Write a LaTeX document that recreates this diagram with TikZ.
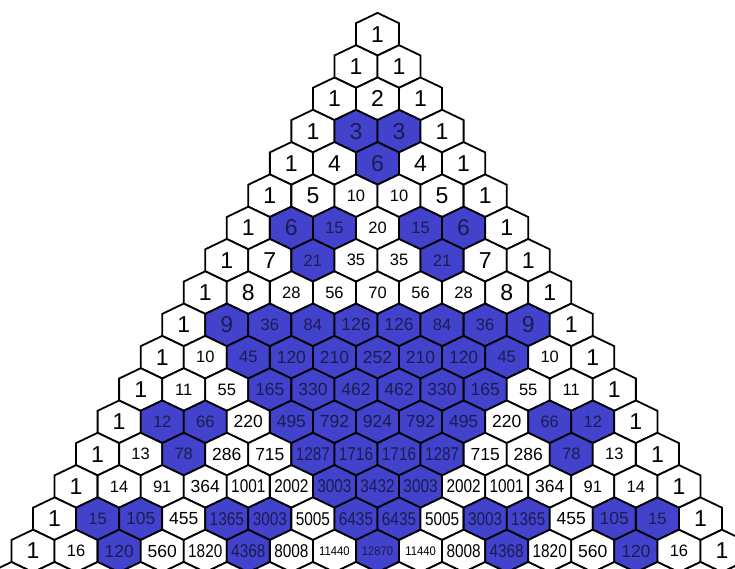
\documentclass[tikz,border=0pt]{standalone}
\usepackage{fontspec}
\setmainfont{Liberation Sans}
\definecolor{cellblue}{RGB}{66,66,204}
\definecolor{bluetext}{RGB}{28,28,80}
\newcount\binc
\tikzset{
  hexline/.style={draw=black,line width=1.8pt,line join=miter},
  numlabel/.style={inner sep=0pt,anchor=center}
}
\begin{document}
\begin{tikzpicture}[x=1pt,y=-1pt]
\useasboundingbox (0,0) rectangle (735,569);
\clip (0,0) rectangle (735,569);
\def\hw{21.53}\def\ha{21.3}\def\hb{11}
\foreach \n in {0,...,17}{
  \global\binc=1
  \foreach \k in {0,...,\n}{
    \ifnum\k>0 \global\binc=\numexpr\binc*(\n-\k+1)/\k\relax\fi
    \pgfmathsetmacro\cx{377.5+(\k-\n/2)*43.06}
    \pgfmathsetmacro\cy{34.2+\n*32.3}
    \ifnum\numexpr(\binc/3)*3\relax=\binc
      \def\cf{cellblue}\def\ct{bluetext}%
    \else
      \def\cf{white}\def\ct{black}%
    \fi
    \draw[hexline,fill=\cf] (\cx,\cy-\ha) -- (\cx+\hw,\cy-\hb) -- (\cx+\hw,\cy+\hb)
      -- (\cx,\cy+\ha) -- (\cx-\hw,\cy+\hb) -- (\cx-\hw,\cy-\hb) -- cycle;
    \ifnum\binc<10
      \def\nf{\fontsize{23}{23}\selectfont}\def\xs{1}%
    \else\ifnum\binc<100
      \def\nf{\fontsize{16.5}{16.5}\selectfont}\def\xs{1}%
    \else\ifnum\binc<1000
      \def\nf{\fontsize{17.5}{17.5}\selectfont}\def\xs{1}%
    \else\ifnum\binc<10000
      \def\nf{\fontsize{18.5}{18.5}\selectfont}\def\xs{0.83}%
    \else
      \def\nf{\fontsize{12.5}{12.5}\selectfont}\def\xs{0.9}%
    \fi\fi\fi\fi
    \ifnum\n<17
      \node[numlabel,text=\ct,font=\nf,xscale=\xs] (c-\n-\k) at (\cx,\cy) {\the\binc};
    \fi
  }
}
\end{tikzpicture}
\end{document}
